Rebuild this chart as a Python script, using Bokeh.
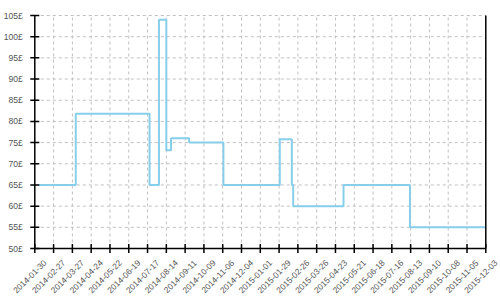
import datetime as dt
from math import pi
from bokeh.plotting import figure
from bokeh.models import Range1d
from bokeh.core.properties import value
from bokeh.embed import file_html
from bokeh.resources import INLINE

# data
change_dates = ["2014-02-05", "2014-04-01", "2014-07-20", "2014-08-03", "2014-08-14",
                "2014-08-21", "2014-09-17", "2014-11-07", "2015-01-30", "2015-02-17",
                "2015-02-19", "2015-05-05", "2015-08-12", "2015-12-03"]
prices = [65.0, 81.8, 65.0, 104.0, 73.2, 76.0, 75.0, 65.0, 75.8, 65.0,
          60.0, 65.0, 55.0, 55.0]
tick_dates = ["2014-01-30", "2014-02-27", "2014-03-27", "2014-04-24", "2014-05-22",
              "2014-06-19", "2014-07-17", "2014-08-14", "2014-09-11", "2014-10-09",
              "2014-11-06", "2014-12-04", "2015-01-01", "2015-01-29", "2015-02-26",
              "2015-03-26", "2015-04-23", "2015-05-21", "2015-06-18", "2015-07-16",
              "2015-08-13", "2015-09-10", "2015-10-08", "2015-11-05", "2015-12-03"]
y_ticks = [50, 55, 60, 65, 70, 75, 80, 85, 90, 95, 100, 105]
y_tick_labels = ["50£", "55£", "60£", "65£", "70£", "75£", "80£", "85£", "90£",
                 "95£", "100£", "105£"]

def to_ms(s):
    d = dt.datetime.strptime(s, "%Y-%m-%d")
    return (d - dt.datetime(1970, 1, 1)).total_seconds() * 1000.0

xs = [to_ms(s) for s in change_dates]
tick_ms = [to_ms(s) for s in tick_dates]
x0, x1 = tick_ms[0], tick_ms[-1]
y0, y1 = y_ticks[0], y_ticks[-1]

W, H = 500, 300
# plotting area inside the canvas (pixels)
LEFT, RIGHT_EDGE, TOP, BOTTOM_EDGE = 34.3, 485.3, 15.0, 248.0
mpp = (x1 - x0) / (RIGHT_EDGE - LEFT)
upp = (y1 - y0) / (BOTTOM_EDGE - TOP)

p = figure(width=W, height=H, output_backend="svg", toolbar_location=None, title=None,
           x_range=Range1d(x0 - LEFT * mpp, x1 + (W - RIGHT_EDGE) * mpp),
           y_range=Range1d(y0 - (H - BOTTOM_EDGE) * upp, y1 + TOP * upp),
           min_border_left=0, min_border_right=0, min_border_top=0,
           min_border_bottom=0, x_axis_location=None, y_axis_location=None)
p.outline_line_color = None
p.background_fill_color = "white"
p.border_fill_color = "white"
for g in p.grid:
    g.visible = False

GRID = dict(line_color="#c0c0c0", line_dash="3 3", line_width=1)
AX = dict(line_color="black", line_width=1.5)

# grid lines
p.segment(x0=[x0] * (len(y_ticks) - 1), y0=y_ticks[1:], x1=[x1] * (len(y_ticks) - 1),
          y1=y_ticks[1:], **GRID)
p.segment(x0=tick_ms[1:-1], y0=[y0] * (len(tick_ms) - 2), x1=tick_ms[1:-1],
          y1=[y1] * (len(tick_ms) - 2), **GRID)

# price line
p.step(xs, prices, mode="after", line_color="#87CEEB", line_width=2)

# axis lines (left, bottom, right)
p.segment(x0=[x0, x0, x1], y0=[y0, y0, y0], x1=[x0, x1, x1], y1=[y1, y0, y1], **AX)

# ticks
p.scatter(x=[x0] * len(y_ticks), y=y_ticks, marker="dash", size=9, **AX)
p.scatter(x=tick_ms, y=[y0] * len(tick_ms), marker="dash", angle=pi / 2, size=9, **AX)

# tick labels
p.text(x=[x0] * len(y_ticks), y=y_ticks, text=y_tick_labels, text_align="right",
       text_baseline="middle", x_offset=-12, text_font=value("Liberation Sans"),
       text_font_size="8.6px", text_color="#555555")
p.text(x=tick_ms, y=[y0] * len(tick_ms), text=tick_dates, angle=pi / 4,
       text_align="center", text_baseline="middle", x_offset=-5, y_offset=28,
       text_font=value("Liberation Sans"), text_font_size="8.4px", text_color="#555555")

open("out.html", "w").write(file_html(p, INLINE))
